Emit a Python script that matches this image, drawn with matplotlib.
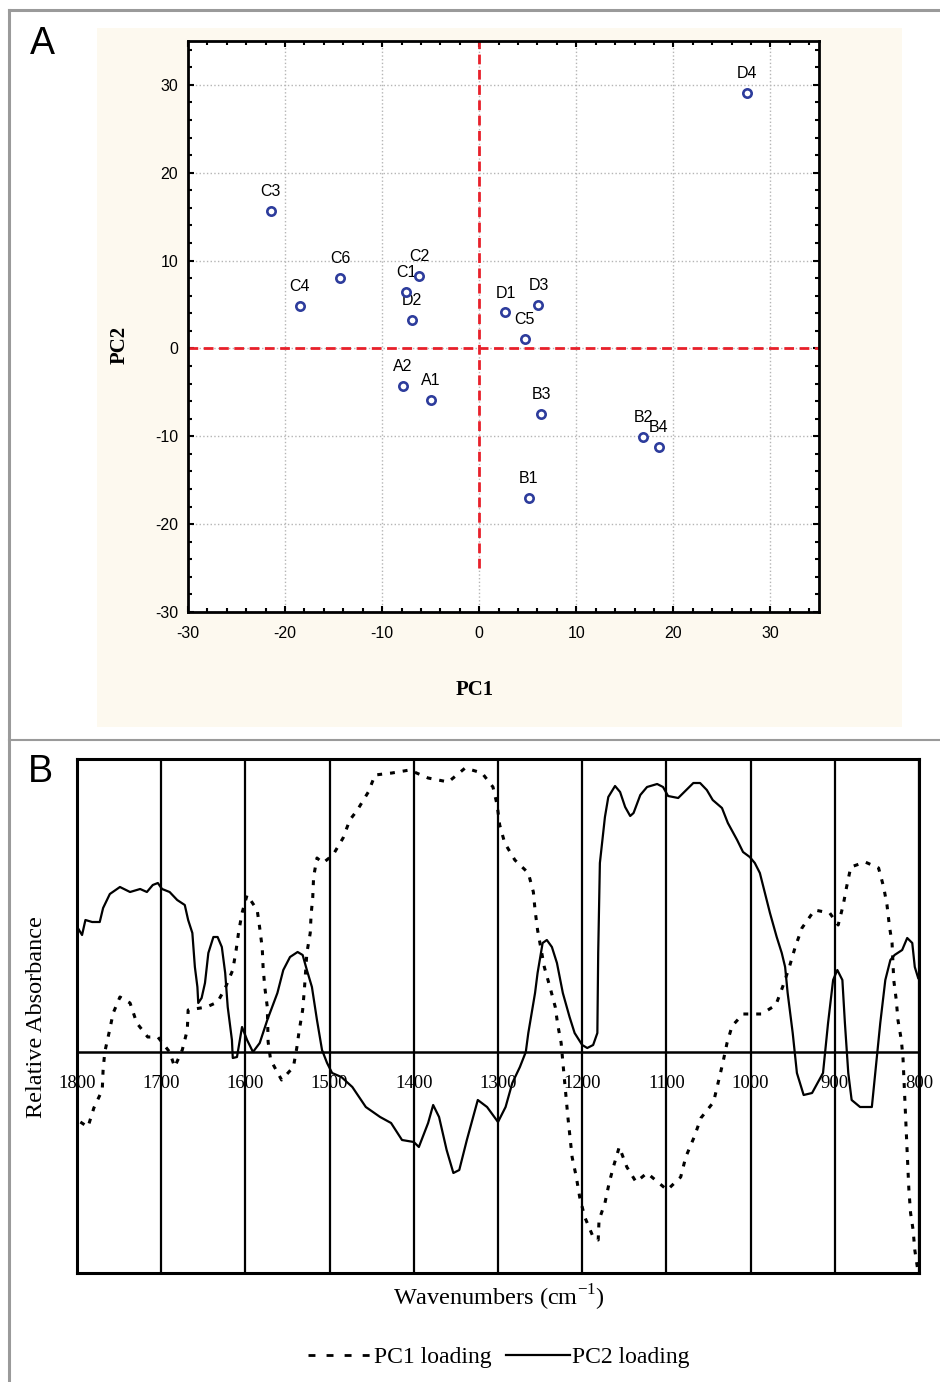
import matplotlib
matplotlib.use('Agg')
import matplotlib.pyplot as plt
from matplotlib.lines import Line2D
from matplotlib.patches import Rectangle
from matplotlib.ticker import MultipleLocator

plt.rcParams['axes.unicode_minus'] = False

# ---------------- data ----------------
# Panel A: PCA scores
sample_labels = ['C3', 'C4', 'C6', 'C1', 'C2', 'D2', 'A2', 'A1',
                 'D1', 'D3', 'C5', 'B3', 'B1', 'B2', 'B4', 'D4']
pc1_scores = [-21.5, -18.5, -14.3, -7.5, -6.2, -6.9, -7.9, -5.0,
              2.7, 6.1, 4.7, 6.4, 5.1, 16.9, 18.5, 27.6]
pc2_scores = [15.6, 4.8, 8.0, 6.4, 8.2, 3.2, -4.3, -5.9,
              4.1, 5.0, 1.1, -7.5, -17.0, -10.1, -11.25, 29.1]
score_ticks = [-30, -20, -10, 0, 10, 20, 30]

# Panel B: loadings
pc1_wn = [1796, 1787, 1780, 1770, 1769, 1767, 1762, 1757, 1749, 1737, 1729, 1716,
          1704, 1690, 1684, 1675, 1669, 1668, 1646, 1633, 1624, 1615, 1611, 1608,
          1604, 1598, 1586, 1583, 1580, 1579, 1577, 1574, 1573, 1570, 1557, 1543,
          1539, 1536, 1532, 1530, 1527, 1523, 1522, 1520, 1519, 1515, 1508, 1496,
          1484, 1476, 1467, 1454, 1446, 1426, 1405, 1383, 1359, 1339, 1319, 1306,
          1301, 1298, 1292, 1280, 1264, 1258, 1256, 1253, 1245, 1238, 1232, 1229,
          1225, 1223, 1217, 1212, 1207, 1203, 1197, 1187, 1181, 1180, 1173, 1168,
          1163, 1156, 1147, 1136, 1123, 1099, 1083, 1077, 1067, 1059, 1044, 1033,
          1028, 1022, 1009, 987, 970, 962, 954, 947, 939, 924, 906, 896, 890, 886,
          881, 864, 848, 842, 838, 835, 832, 830, 827, 825, 821, 819, 817, 814,
          812, 810, 807, 805, 802]
pc1_load = [-0.70, -0.75, -0.56, -0.38, -0.18, 0.00, 0.19, 0.39, 0.55, 0.49, 0.29, 0.15,
            0.15, 0.00, -0.15, 0.02, 0.22, 0.42, 0.45, 0.50, 0.64, 0.82, 1.02, 1.20,
            1.39, 1.57, 1.42, 1.24, 1.04, 0.85, 0.65, 0.45, 0.10, -0.08, -0.28, -0.15,
            0.04, 0.22, 0.42, 0.62, 0.99, 1.19, 1.37, 1.55, 1.75, 1.94, 1.89, 1.97,
            2.14, 2.32, 2.42, 2.60, 2.77, 2.79, 2.82, 2.74, 2.70, 2.84, 2.79, 2.65,
            2.47, 2.27, 2.09, 1.92, 1.79, 1.60, 1.42, 1.22, 0.85, 0.64, 0.45, 0.27,
            0.09, -0.10, -0.65, -1.05, -1.25, -1.45, -1.65, -1.85, -1.88, -1.68, -1.51, -1.31,
            -1.15, -0.95, -1.15, -1.30, -1.21, -1.38, -1.25, -1.05, -0.85, -0.66, -0.50, -0.11,
            0.09, 0.26, 0.38, 0.38, 0.47, 0.65, 0.85, 1.05, 1.24, 1.42, 1.39, 1.27, 1.47, 1.65,
            1.85, 1.90, 1.84, 1.65, 1.47, 1.25, 1.09, 0.72, 0.52, 0.32, 0.12, -0.06, -0.45, -1.01,
            -1.38, -1.61, -1.78, -1.98, -2.15]

pc2_wn = [1799, 1794, 1790, 1782, 1773, 1769, 1761, 1749, 1737, 1725, 1717, 1710,
          1704, 1699, 1690, 1681, 1672, 1668, 1663, 1660, 1657, 1656, 1652, 1648,
          1644, 1638, 1633, 1628, 1624, 1621, 1616, 1615, 1610, 1604, 1598, 1591,
          1583, 1574, 1562, 1555, 1547, 1538, 1532, 1527, 1521, 1515, 1509, 1503,
          1497, 1486, 1473, 1457, 1440, 1427, 1414, 1400, 1394, 1383, 1377, 1370,
          1361, 1353, 1346, 1337, 1324, 1313, 1300, 1291, 1283, 1274, 1267, 1264,
          1256, 1253, 1247, 1242, 1236, 1230, 1223, 1215, 1209, 1200, 1194, 1187,
          1182, 1181, 1179, 1173, 1169, 1161, 1155, 1149, 1143, 1139, 1131, 1123,
          1111, 1104, 1098, 1086, 1080, 1068, 1060, 1052, 1045, 1034, 1027, 1016,
          1009, 1001, 995, 989, 983, 977, 969, 963, 959, 956, 950, 945, 937, 927,
          914, 908, 902, 897, 891, 888, 884, 880, 870, 856, 852, 846, 840, 834,
          829, 820, 814, 808, 805, 801]
pc2_load = [1.24, 1.17, 1.32, 1.30, 1.30, 1.44, 1.58, 1.65, 1.60, 1.63, 1.60, 1.67,
            1.69, 1.63, 1.60, 1.52, 1.47, 1.32, 1.19, 0.85, 0.65, 0.49, 0.54, 0.69,
            0.99, 1.15, 1.15, 1.05, 0.79, 0.45, 0.12, -0.06, -0.05, 0.25, 0.12, 0.00,
            0.09, 0.32, 0.59, 0.82, 0.95, 1.00, 0.97, 0.82, 0.65, 0.32, 0.02, -0.11,
            -0.21, -0.25, -0.35, -0.55, -0.65, -0.71, -0.88, -0.90, -0.95, -0.71, -0.53, -0.65,
            -0.98, -1.21, -1.18, -0.88, -0.48, -0.55, -0.70, -0.55, -0.31, -0.15, 0.00, 0.19,
            0.59, 0.79, 1.09, 1.12, 1.05, 0.89, 0.59, 0.35, 0.19, 0.07, 0.04, 0.07,
            0.19, 0.99, 1.89, 2.35, 2.55, 2.66, 2.60, 2.45, 2.36, 2.39, 2.57, 2.65,
            2.68, 2.65, 2.56, 2.54, 2.59, 2.69, 2.69, 2.62, 2.52, 2.44, 2.29, 2.12,
            2.00, 1.95, 1.89, 1.79, 1.59, 1.39, 1.15, 0.99, 0.85, 0.59, 0.19, -0.21, -0.43, -0.41,
            -0.21, 0.29, 0.72, 0.82, 0.72, 0.29, -0.21, -0.48, -0.55, -0.55, -0.21, 0.29, 0.72, 0.92,
            0.97, 1.02, 1.14, 1.09, 0.85, 0.74]
wn_ticks = [1800, 1700, 1600, 1500, 1400, 1300, 1200, 1100, 1000, 900, 800]

# ---------------- figure ----------------
W, H = 940, 1382
fig = plt.figure(figsize=(W / 100, H / 100), dpi=100)
fig.patch.set_facecolor('white')


def fx(px):
    return px / W


def fy(py):
    return 1 - py / H


gray = '#9a9a9a'
fig.add_artist(Line2D([fx(9), 1], [fy(10), fy(10)], color=gray, lw=2.2))
fig.add_artist(Line2D([fx(9), fx(9)], [fy(10), 0], color=gray, lw=2.2))
fig.add_artist(Line2D([fx(9), 1], [fy(740), fy(740)], color=gray, lw=1.5))
fig.add_artist(Rectangle((fx(97), fy(727)), fx(902) - fx(97), (727 - 28) / H,
                         transform=fig.transFigure, facecolor='#fdf9ef',
                         edgecolor='none', zorder=0))

fig.text(fx(42), fy(44), 'A', fontsize=27, family='Liberation Sans',
         ha='center', va='center')
fig.text(fx(40), fy(772), 'B', fontsize=27, family='Liberation Sans',
         ha='center', va='center')

# ---------------- Panel A ----------------
axA = fig.add_axes([fx(188), fy(612), fx(819) - fx(188), (612 - 41) / H])
axA.set_facecolor('white')
axA.set_xlim(-30, 35)
axA.set_ylim(-30, 35)
axA.set_xticks(score_ticks)
axA.set_yticks(score_ticks)
axA.xaxis.set_minor_locator(MultipleLocator(2))
axA.yaxis.set_minor_locator(MultipleLocator(2))
axA.tick_params(which='both', direction='in', top=True, right=True,
                width=1.5, color='black')
axA.tick_params(which='major', length=4)
axA.tick_params(which='minor', length=3)
axA.tick_params(axis='x', pad=10, labelsize=11.5)
axA.tick_params(axis='y', pad=7, labelsize=11.5)
for lab in axA.get_xticklabels() + axA.get_yticklabels():
    lab.set_family('Liberation Sans')
for sp in axA.spines.values():
    sp.set_linewidth(2)
axA.grid(True, which='major', color='#b5b5b5', linestyle=':', lw=1)
axA.set_axisbelow(True)

axA.axhline(0, color='#e8202a', lw=2, linestyle=(0, (3.5, 2)), zorder=2)
axA.vlines(0, -25, 35, color='#e8202a', lw=2, linestyles=[(0, (3.5, 2))], zorder=2)

axA.plot(pc1_scores, pc2_scores, linestyle='none', marker='o', ms=6,
         mfc='white', mec='#2d3c9c', mew=1.9, zorder=4)
for name, x, y in zip(sample_labels, pc1_scores, pc2_scores):
    axA.annotate(name, (x, y), xytext=(0, 14), textcoords='offset points',
                 ha='center', va='center', fontsize=11.5,
                 family='Liberation Sans', zorder=3)

fig.text(fx(475), fy(690), 'PC1', fontsize=15, family='Liberation Serif',
         weight='bold', ha='center', va='center')
fig.text(fx(120), fy(345), 'PC2', fontsize=15, family='Liberation Serif',
         weight='bold', ha='center', va='center', rotation=90)

# ---------------- Panel B ----------------
axB = fig.add_axes([fx(77), fy(1273), fx(919) - fx(77), (1273 - 759) / H])
axB.set_xlim(1800, 800)
axB.set_ylim(-2.21, 2.93)
axB.set_xticks(wn_ticks)
axB.set_yticks([])
axB.tick_params(axis='x', length=0, labelbottom=False)
axB.grid(True, axis='x', color='black', lw=1.6)
axB.set_axisbelow(True)
for sp in axB.spines.values():
    sp.set_linewidth(2.2)
axB.axhline(0, color='black', lw=1.8, zorder=1)

axB.plot(pc1_wn, pc1_load, color='black', lw=2.2, linestyle=(0, (1.6, 2.6)),
         label='PC1 loading', zorder=3)
axB.plot(pc2_wn, pc2_load, color='black', lw=1.6, linestyle='-',
         label='PC2 loading', zorder=3)

for wn in wn_ticks:
    axB.annotate(str(wn), (wn, 0), xytext=(0, -23), textcoords='offset points',
                 ha='center', va='center', fontsize=13.5,
                 family='Liberation Serif', zorder=4)

fig.text(fx(37), fy(1017), 'Relative Absorbance', fontsize=17.5,
         family='Liberation Serif', ha='center', va='center', rotation=90)
fig.text(fx(499), fy(1298), r'Wavenumbers (cm$^{\mathregular{-1}}$)', fontsize=17.5,
         family='Liberation Serif', ha='center', va='center')

h1 = Line2D([], [], color='black', lw=2.0, linestyle=(0, (2.5, 4)))
h2 = Line2D([], [], color='black', lw=1.6)
leg = fig.legend([h1, h2], ['PC1 loading', 'PC2 loading'], loc='center',
                 bbox_to_anchor=(fx(499), fy(1357)), ncol=2, frameon=False,
                 handlelength=2.7, handletextpad=0.1, columnspacing=0.6,
                 prop={'family': 'Liberation Serif', 'size': 17})

fig.savefig('out.png', dpi=100)
